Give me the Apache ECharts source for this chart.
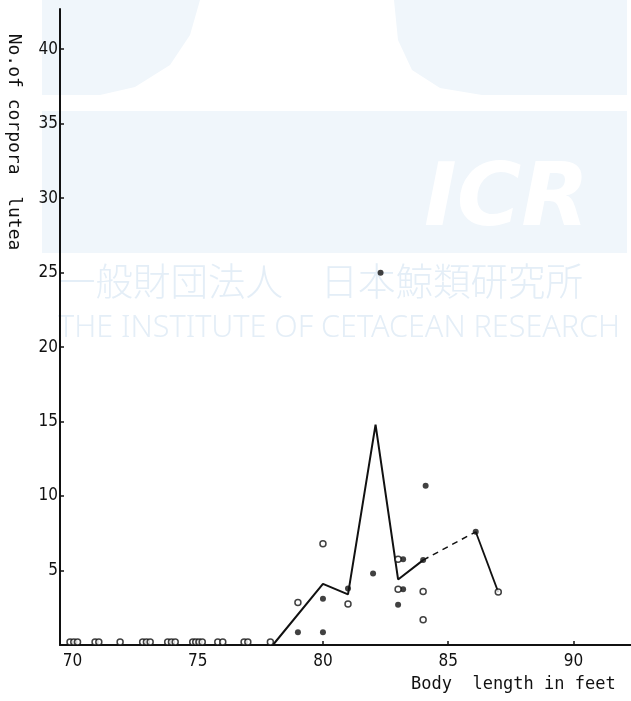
<!DOCTYPE html>
<html>
<head>
<meta charset="utf-8">
<script src="https://cdn.jsdelivr.net/npm/echarts@6/dist/echarts.min.js"></script>
<style>
  html, body { margin: 0; padding: 0; background: #fff; }
  #chart { width: 631px; height: 701px; }
</style>
</head>
<body>
<div id="chart"></div>
<script>
// 图表数据：体长(英尺) 与 黄体数
var xTicks = [70, 75, 80, 85, 90];
var yTicks = [5, 10, 15, 20, 25, 30, 35, 40];

// 折线 (实线部分 + 虚线部分 + 最后一段)
var lineSolid = [[78, 0], [80, 4.1], [81, 3.4], [82.1, 14.8], [83, 4.4], [84, 5.7]];
var lineDashed = [[84, 5.7], [86.1, 7.6]];
var lineTail = [[86.1, 7.6], [87, 3.55]];

// 实心点
var filledPts = [
    [79, 0.85], [80, 3.1], [80, 0.85], [81, 3.8], [82, 4.8], [82.3, 25],
    [83.2, 5.75], [83.2, 3.75], [83, 2.7], [84, 5.7], [84.1, 10.7], [86.1, 7.6]
];

// 空心点
var openPts = [
    [79, 2.85], [80, 6.8], [81, 2.75], [83, 5.75], [83, 3.75], [84, 3.6], [84, 1.7], [87, 3.55]
];

// 横轴上的空心点 (黄体数为 0)
var zeroPts = [
    [69.9, 0.2], [70.05, 0.2], [70.2, 0.2],
    [70.9, 0.2], [71.05, 0.2],
    [71.9, 0.2],
    [72.8, 0.2], [72.95, 0.2], [73.1, 0.2],
    [73.8, 0.2], [73.95, 0.2], [74.1, 0.2],
    [74.8, 0.2], [74.92, 0.2], [75.05, 0.2], [75.18, 0.2], [74.98, -0.15],
    [75.8, 0.2], [76.0, 0.2],
    [76.85, 0.2], [77.0, 0.2],
    [77.9, 0.2]
];

var myChart = echarts.init(document.getElementById('chart'));

var wmColor = '#f0f6fb';
var wmText = '#e4eef7';
var labelFont = '"DejaVu Sans Condensed", "DejaVu Sans", sans-serif';

var option = {
    animation: false,
    grid: {
        left: 60,
        right: 0,
        top: 9,
        bottom: 56
    },
    graphic: [
        // 水印 (ICR)
        {
            type: 'polygon', z: -10,
            shape: { points: [[42, 0], [200, 0], [190, 35], [170, 65], [135, 87], [100, 95], [42, 95]] },
            style: { fill: wmColor }
        },
        {
            type: 'polygon', z: -10,
            shape: { points: [[394, 0], [627, 0], [627, 95], [482, 95], [440, 88], [412, 70], [398, 40]] },
            style: { fill: wmColor }
        },
        { type: 'rect', z: -10, shape: { x: 42, y: 111, width: 585, height: 142 }, style: { fill: wmColor } },
        {
            type: 'text', z: -9, left: 424, top: 158,
            style: { text: 'ICR', fill: '#ffffff', font: 'italic bold 88px "DejaVu Sans", sans-serif' }
        },
        {
            type: 'text', z: -9, left: 58, top: 262,
            style: { text: '一般財団法人　日本鯨類研究所', fill: wmText, font: '300 37.5px "Noto Sans CJK JP", sans-serif' }
        },
        {
            type: 'text', z: -9, left: 58, top: 313,
            style: { text: 'THE INSTITUTE OF CETACEAN RESEARCH', fill: wmText, font: '300 30.5px "Noto Sans", sans-serif' }
        },
        // 坐标轴名称
        {
            type: 'text', x: 14, y: 142, rotation: -Math.PI / 2,
            style: {
                text: 'No.of corpora  lutea', fill: '#111',
                font: '18px "DejaVu Sans Mono", monospace',
                align: 'center', verticalAlign: 'middle'
            }
        },
        {
            type: 'text', left: 411, top: 676,
            style: { text: 'Body  length in feet', fill: '#111', font: '17px "DejaVu Sans Mono", monospace' }
        }
    ],
    xAxis: {
        type: 'value',
        min: 69.5,
        max: 92.3,
        splitLine: { show: false },
        axisLine: { onZero: false, lineStyle: { color: '#111', width: 2 } },
        axisTick: {
            show: true, inside: true, length: 4,
            customValues: xTicks,
            lineStyle: { color: '#111', width: 1.5 }
        },
        axisLabel: {
            customValues: xTicks,
            color: '#111',
            fontSize: 17,
            fontFamily: labelFont,
            margin: 8
        }
    },
    yAxis: {
        type: 'value',
        min: 0,
        max: 42.7,
        splitLine: { show: false },
        axisLine: { onZero: false, lineStyle: { color: '#111', width: 2 } },
        axisTick: {
            show: true, inside: true, length: 4,
            customValues: yTicks,
            lineStyle: { color: '#111', width: 1.5 }
        },
        axisLabel: {
            customValues: yTicks,
            color: '#111',
            fontSize: 17,
            fontFamily: labelFont,
            margin: 2
        }
    },
    series: [
        {
            type: 'line', data: lineSolid, symbol: 'none',
            lineStyle: { color: '#111', width: 2 }, z: 3
        },
        {
            type: 'line', data: lineDashed, symbol: 'none',
            lineStyle: { color: '#111', width: 1.5, type: [6, 5] }, z: 3
        },
        {
            type: 'line', data: lineTail, symbol: 'none',
            lineStyle: { color: '#111', width: 1.8 }, z: 3
        },
        {
            type: 'scatter', data: filledPts, symbol: 'circle', symbolSize: 6,
            itemStyle: { color: '#111' }, z: 5
        },
        {
            type: 'scatter', data: openPts, symbol: 'circle', symbolSize: 6,
            itemStyle: { color: '#fff', borderColor: '#111', borderWidth: 1.5 }, z: 5
        },
        {
            type: 'scatter', data: zeroPts, symbol: 'circle', symbolSize: 6,
            itemStyle: { color: '#fff', borderColor: '#111', borderWidth: 1.5 }, z: 5
        }
    ]
};

myChart.setOption(option);
</script>
</body>
</html>
